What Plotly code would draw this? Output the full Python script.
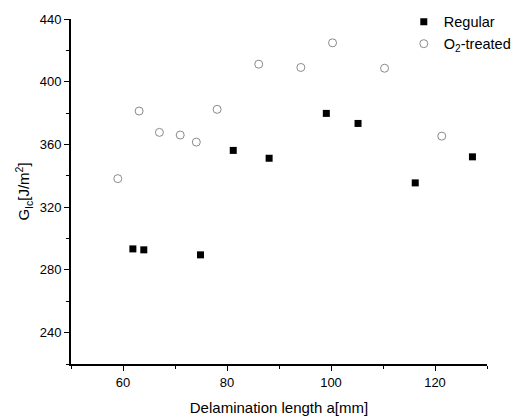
import plotly.graph_objects as go

reg_x = [61.9, 64.0, 74.9, 81.2, 88.1, 99.1, 105.2, 116.2, 127.2]
reg_y = [293.4, 292.8, 289.6, 356.2, 351.2, 379.8, 373.4, 335.5, 352.1]
o2_x = [59.0, 63.1, 67.0, 71.0, 74.1, 78.1, 86.1, 94.2, 100.3, 110.3, 121.3]
o2_y = [338.2, 381.3, 367.7, 366.0, 361.5, 382.4, 411.2, 409.1, 424.8, 408.6, 365.3]

FONT = "Liberation Sans, Arial"

fig = go.Figure()
fig.add_trace(go.Scatter(x=reg_x, y=reg_y, mode="markers", name="Regular",
                         marker=dict(symbol="square", size=7, color="black")))
fig.add_trace(go.Scatter(x=o2_x, y=o2_y, mode="markers", name="O<sub>2</sub>-treated",
                         marker=dict(symbol="circle-open", size=8, color="#8a8a8a",
                                     line=dict(width=1, color="#8a8a8a"))))

axis_common = dict(showgrid=False, zeroline=False, showline=True, linecolor="black",
                   linewidth=2, ticks="outside", ticklen=5, tickwidth=1.3, tickcolor="black",
                   tickfont=dict(family=FONT, size=13, color="black"),
                   mirror=False)
fig.update_xaxes(range=[50, 130], dtick=20, tick0=0,
                 minor=dict(dtick=10, ticks="outside", ticklen=3, tickcolor="black"),
                 title=dict(text="Delamination length a[mm]",
                            font=dict(family=FONT, size=15, color="black"),
                            standoff=14),
                 **axis_common)
fig.update_yaxes(range=[220, 440], dtick=40, tick0=0,
                 minor=dict(dtick=20, ticks="outside", ticklen=3, tickcolor="black"),
                 title=dict(text="G<sub>Ic</sub>[J/m<sup>2</sup>]",
                            font=dict(family=FONT, size=15, color="black"),
                            standoff=6),
                 **axis_common)
fig.update_layout(
    width=515, height=419,
    margin=dict(l=71, r=28, t=19, b=55, autoexpand=False),
    plot_bgcolor="white", paper_bgcolor="white",
    legend=dict(x=0.80, y=1.038, xanchor="left", yanchor="top",
                font=dict(family=FONT, size=14.5, color="black"),
                bgcolor="rgba(0,0,0,0)", itemwidth=30, tracegroupgap=0),
)
fig.write_html("out.html")
